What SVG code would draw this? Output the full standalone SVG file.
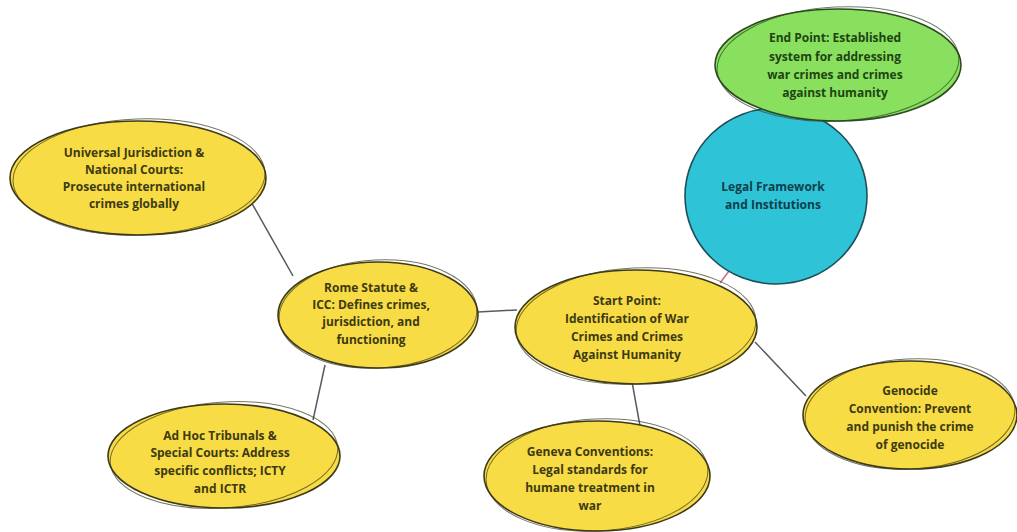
<svg xmlns="http://www.w3.org/2000/svg" width="1017" height="532" viewBox="0 0 1017 532">
<style>
.y{fill:#f8dc45;stroke:#3d3a1a;stroke-width:1.6}
.g{fill:#88e05e;stroke:#2e4a22;stroke-width:1.6}
.b{fill:#2fc3d8;stroke:#1d4f58;stroke-width:1.6}
.s{fill:none;stroke-width:1;opacity:0.7}
.t{font-family:"Open Sans","Lato",sans-serif;font-size:12px;font-weight:bold;text-anchor:middle}
.ty{fill:#3d3a12}
.tg{fill:#1f4412}
.tb{fill:#0e3f4a}
.c{stroke:#555b60;stroke-width:1.5;fill:none}
.p{stroke:#c07090}
</style>
<rect width="1017" height="532" fill="#ffffff"/>
<g id="connectors">
<line class="c" x1="250" y1="200" x2="293" y2="276"/>
<line class="c" x1="478" y1="312" x2="517" y2="310"/>
<line class="c" x1="325" y1="365" x2="313" y2="420"/>
<line class="c p" x1="720" y1="283" x2="729" y2="271"/>
<line class="c" x1="755" y1="342" x2="806" y2="396"/>
<line class="c" x1="629" y1="365" x2="640" y2="426"/>
</g>
<g id="universal">
<ellipse class="y" cx="138" cy="178" rx="128" ry="57"/>
<ellipse class="s" cx="139" cy="177" rx="126" ry="58" stroke="#3d3a1a" transform="rotate(-2 139 177)"/>
<text class="t ty" x="134" y="157">Universal Jurisdiction &amp;</text>
<text class="t ty" x="134" y="174">National Courts:</text>
<text class="t ty" x="134" y="191">Prosecute international</text>
<text class="t ty" x="134" y="208">crimes globally</text>
</g>
<g id="rome">
<ellipse class="y" cx="378" cy="315" rx="100" ry="53"/>
<ellipse class="s" cx="378" cy="314" rx="99" ry="54" stroke="#3d3a1a" transform="rotate(-3 378 314)"/>
<text class="t ty" x="371" y="292">Rome Statute &amp;</text>
<text class="t ty" x="371" y="309">ICC: Defines crimes,</text>
<text class="t ty" x="371" y="326">jurisdiction, and</text>
<text class="t ty" x="371" y="344">functioning</text>
</g>
<g id="start">
<ellipse class="y" cx="636" cy="327" rx="121" ry="57"/>
<ellipse class="s" cx="636" cy="326" rx="120" ry="58" stroke="#3d3a1a" transform="rotate(-3 636 326)"/>
<text class="t ty" x="627" y="305">Start Point:</text>
<text class="t ty" x="627" y="323">Identification of War</text>
<text class="t ty" x="627" y="341">Crimes and Crimes</text>
<text class="t ty" x="627" y="359">Against Humanity</text>
</g>
<g id="legal">
<ellipse class="b" cx="776" cy="196" rx="91" ry="88"/>
<text class="t tb" x="773" y="191">Legal Framework</text>
<text class="t tb" x="773" y="209">and Institutions</text>
</g>
<g id="end">
<ellipse class="g" cx="838" cy="65" rx="123" ry="56"/>
<ellipse class="s" cx="838" cy="64" rx="121" ry="57" stroke="#2e4a22" transform="rotate(-3 838 64)"/>
<text class="t tg" x="835" y="42">End Point: Established</text>
<text class="t tg" x="835" y="61">system for addressing</text>
<text class="t tg" x="835" y="79">war crimes and crimes</text>
<text class="t tg" x="835" y="97">against humanity</text>
</g>
<g id="adhoc">
<ellipse class="y" cx="224" cy="456" rx="116" ry="52"/>
<ellipse class="s" cx="224" cy="455" rx="114" ry="53" stroke="#3d3a1a" transform="rotate(-4 224 455)"/>
<text class="t ty" x="220" y="440">Ad Hoc Tribunals &amp;</text>
<text class="t ty" x="220" y="457">Special Courts: Address</text>
<text class="t ty" x="220" y="475">specific conflicts; ICTY</text>
<text class="t ty" x="220" y="493">and ICTR</text>
</g>
<g id="geneva">
<ellipse class="y" cx="597" cy="476" rx="113" ry="55"/>
<ellipse class="s" cx="597" cy="475" rx="111" ry="56" stroke="#3d3a1a" transform="rotate(-3 597 475)"/>
<text class="t ty" x="590" y="456">Geneva Conventions:</text>
<text class="t ty" x="590" y="474">Legal standards for</text>
<text class="t ty" x="590" y="492">humane treatment in</text>
<text class="t ty" x="590" y="510">war</text>
</g>
<g id="genocide">
<ellipse class="y" cx="910" cy="415" rx="107" ry="54"/>
<ellipse class="s" cx="910" cy="414" rx="105" ry="55" stroke="#3d3a1a" transform="rotate(-3 910 414)"/>
<text class="t ty" x="910" y="395">Genocide</text>
<text class="t ty" x="910" y="413">Convention: Prevent</text>
<text class="t ty" x="910" y="431">and punish the crime</text>
<text class="t ty" x="910" y="449">of genocide</text>
</g>
</svg>
